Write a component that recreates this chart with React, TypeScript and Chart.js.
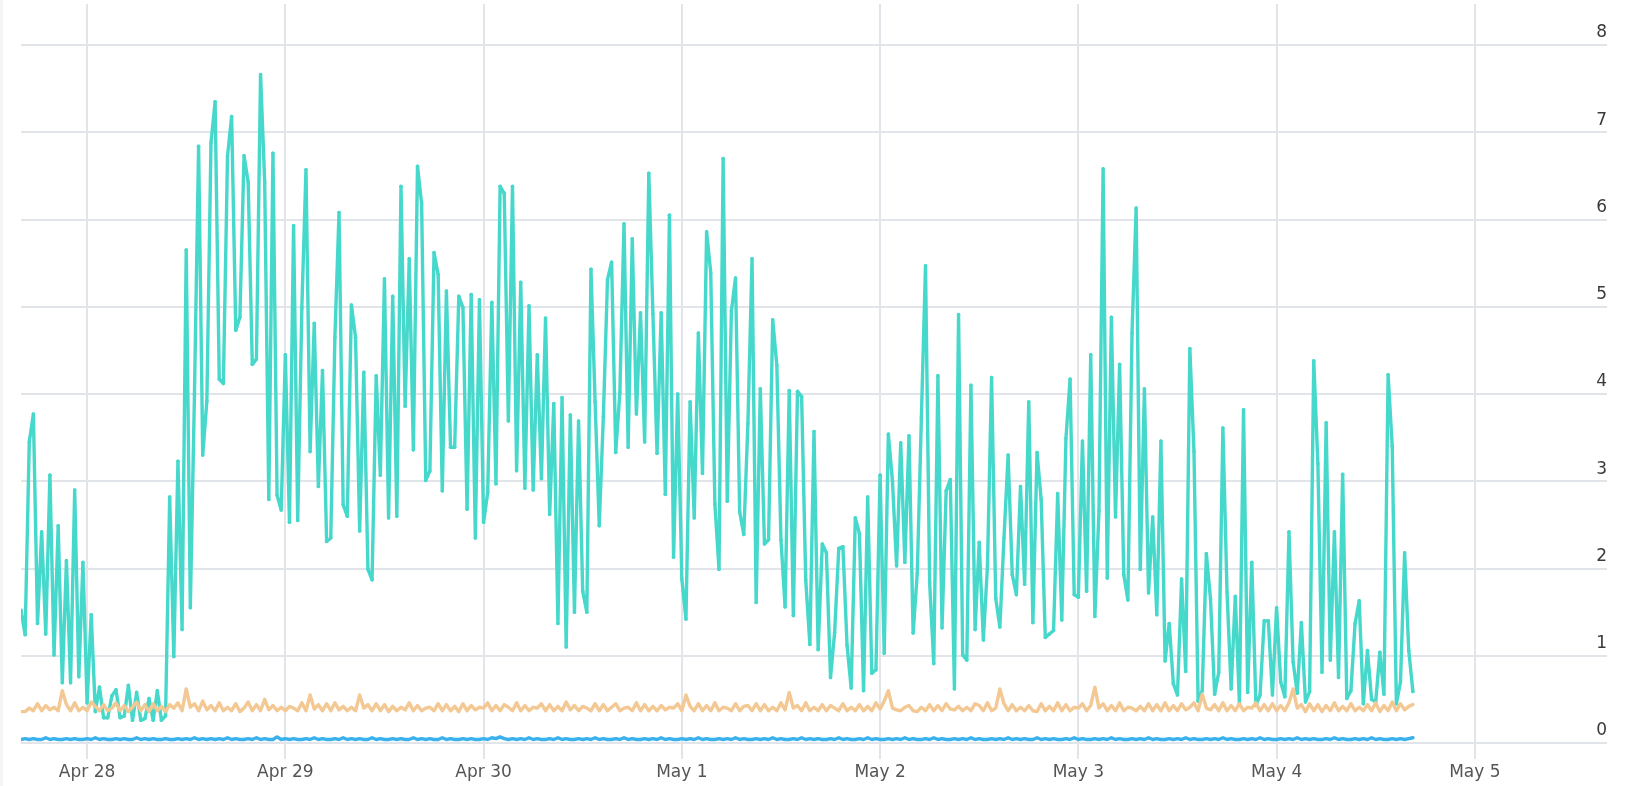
import React, { useEffect, useRef } from "react";
import { Chart, registerables } from "chart.js";

Chart.register(...registerables);

// Time axis expressed in hours since Apr 27 16:00 (first sample)
const SAMPLE_STEP_HOURS = 0.5;
const X_MIN_HOURS = 0; // Apr 27 16:00
const X_MAX_HOURS = 192; // May 5 16:00
const dayTickHours = [8, 32, 56, 80, 104, 128, 152, 176];
const dayTickLabels = ["Apr 28", "Apr 29", "Apr 30", "May 1", "May 2", "May 3", "May 4", "May 5"];
const yTickValues = [0, 1, 2, 3, 4, 5, 6, 7, 8];
const Y_MAX = 8.47;

// turquoise series (30-minute samples)
const turquoiseValues = [
  // Apr 27 16:00 – Apr 29 00:00
  1.52, 1.24, 3.45, 3.77, 1.37, 2.42, 1.25, 3.07, 1.01, 2.49,
  0.69, 2.09, 0.69, 2.90, 0.76, 2.07, 0.46, 1.47, 0.36, 0.64,
  0.29, 0.29, 0.54, 0.61, 0.29, 0.31, 0.66, 0.26, 0.58, 0.26,
  0.28, 0.51, 0.26, 0.60, 0.26, 0.31, 2.82, 0.99, 3.23, 1.30,
  5.65, 1.55, 4.00, 6.84, 3.30, 3.92, 6.88, 7.35, 4.17, 4.12,
  6.73, 7.18, 4.73, 4.88, 6.73, 6.43, 4.34, 4.40, 7.66, 6.43,
  2.79, 6.76, 2.84, 2.67, 4.45,
  // Apr 29
  2.53, 5.93, 2.55, 4.99, 6.57, 3.34, 4.81, 2.94, 4.27, 2.31,
  2.35, 4.65, 6.08, 2.73, 2.60, 5.02, 4.65, 2.43, 4.25, 1.99,
  1.87, 4.21, 3.07, 5.32, 2.58, 5.12, 2.60, 6.38, 3.86, 5.55,
  3.36, 6.61, 6.18, 3.01, 3.12, 5.62, 5.37, 2.89, 5.18, 3.39,
  3.39, 5.12, 4.99, 2.68, 5.14, 2.35, 5.08, 2.53,
  // Apr 30
  2.87, 5.05, 2.97, 6.38, 6.30, 3.69, 6.38, 3.12, 5.28, 2.92,
  5.01, 2.90, 4.45, 3.03, 4.87, 2.62, 3.89, 1.37, 3.96, 1.10,
  3.76, 1.50, 3.69, 1.74, 1.50, 5.43, 3.91, 2.49, 3.74, 5.31,
  5.51, 3.33, 4.02, 5.95, 3.39, 5.78, 3.77, 4.93, 3.45, 6.53,
  4.92, 3.32, 4.93, 2.85, 6.05, 2.13, 4.00, 1.88,
  // May 1
  1.42, 3.91, 2.58, 4.70, 3.09, 5.86, 5.39, 2.74, 1.99, 6.70,
  2.77, 4.95, 5.33, 2.65, 2.39, 3.66, 5.55, 1.61, 4.06, 2.28,
  2.33, 4.85, 4.33, 2.33, 1.56, 4.04, 1.46, 4.03, 3.97, 1.87,
  1.13, 3.57, 1.07, 2.28, 2.18, 0.75, 1.27, 2.23, 2.25, 1.12,
  0.63, 2.58, 2.40, 0.60, 2.82, 0.80, 0.84, 3.07,
  // May 2
  1.03, 3.54, 3.00, 2.03, 3.44, 2.07, 3.52, 1.26, 1.94, 3.73,
  5.47, 1.84, 0.91, 4.21, 1.32, 2.89, 3.02, 0.62, 4.91, 1.01,
  0.95, 4.10, 1.30, 2.30, 1.18, 2.03, 4.19, 1.66, 1.33, 2.35,
  3.30, 1.93, 1.70, 2.94, 1.82, 3.91, 1.38, 3.33, 2.79, 1.21,
  1.25, 1.29, 2.86, 1.41, 3.49, 4.17, 1.70, 1.67,
  // May 3
  3.46, 1.74, 4.45, 1.45, 2.66, 6.58, 1.89, 4.88, 2.59, 4.34,
  1.93, 1.64, 4.70, 6.13, 1.99, 4.06, 1.72, 2.59, 1.47, 3.46,
  0.94, 1.37, 0.68, 0.55, 1.88, 0.82, 4.52, 3.34, 0.48, 0.60,
  2.17, 1.65, 0.56, 0.81, 3.61, 1.73, 0.62, 1.68, 0.45, 3.82,
  0.58, 2.07, 0.43, 0.55, 1.40, 1.40, 0.55, 1.55,
  // May 4
  0.70, 0.53, 2.42, 0.93, 0.57, 1.38, 0.47, 0.59, 4.38, 3.20,
  0.81, 3.67, 0.95, 2.42, 0.75, 3.08, 0.51, 0.60, 1.37, 1.63,
  0.45, 1.06, 0.50, 0.47, 1.04, 0.56, 4.22, 3.40, 0.45, 0.70,
  2.18, 1.06, 0.59,
];

// orange series
const orangeValues = [
  0.36, 0.36, 0.40, 0.37, 0.45, 0.37, 0.43, 0.38, 0.41, 0.37, 0.60, 0.44, 0.37, 0.46, 0.37, 0.41, 0.37, 0.47, 0.42, 0.37, 0.44, 0.37, 0.40, 0.46,
  0.37, 0.43, 0.36, 0.41, 0.47, 0.37, 0.44, 0.36, 0.45, 0.37, 0.42, 0.36, 0.44, 0.40, 0.46, 0.37, 0.62, 0.41, 0.45, 0.37, 0.48, 0.38, 0.43, 0.37,
  0.46, 0.37, 0.41, 0.37, 0.45, 0.36, 0.40, 0.47, 0.37, 0.44, 0.37, 0.50, 0.38, 0.43, 0.37, 0.41, 0.37, 0.42, 0.40, 0.37, 0.46, 0.37, 0.55, 0.39,
  0.44, 0.37, 0.45, 0.37, 0.46, 0.38, 0.42, 0.37, 0.41, 0.37, 0.55, 0.40, 0.44, 0.37, 0.45, 0.37, 0.44, 0.36, 0.42, 0.37, 0.41, 0.38, 0.46, 0.37,
  0.43, 0.37, 0.40, 0.41, 0.37, 0.45, 0.37, 0.44, 0.37, 0.42, 0.36, 0.45, 0.37, 0.43, 0.38, 0.41, 0.40, 0.46, 0.37, 0.43, 0.37, 0.44, 0.41, 0.37,
  0.46, 0.37, 0.43, 0.37, 0.41, 0.40, 0.45, 0.37, 0.44, 0.37, 0.42, 0.37, 0.47, 0.38, 0.43, 0.37, 0.42, 0.40, 0.37, 0.45, 0.37, 0.44, 0.37, 0.41,
  0.45, 0.37, 0.40, 0.41, 0.37, 0.46, 0.37, 0.44, 0.37, 0.42, 0.37, 0.43, 0.38, 0.41, 0.40, 0.45, 0.37, 0.55, 0.42, 0.37, 0.45, 0.37, 0.43, 0.37,
  0.46, 0.37, 0.41, 0.40, 0.37, 0.45, 0.37, 0.42, 0.43, 0.37, 0.45, 0.37, 0.44, 0.37, 0.41, 0.37, 0.46, 0.38, 0.58, 0.40, 0.43, 0.37, 0.46, 0.37,
  0.41, 0.37, 0.44, 0.37, 0.43, 0.40, 0.37, 0.45, 0.37, 0.41, 0.37, 0.44, 0.37, 0.42, 0.37, 0.46, 0.39, 0.48, 0.60, 0.40, 0.38, 0.37, 0.41, 0.43,
  0.37, 0.36, 0.41, 0.37, 0.44, 0.37, 0.43, 0.37, 0.45, 0.39, 0.38, 0.42, 0.37, 0.41, 0.37, 0.45, 0.43, 0.37, 0.46, 0.37, 0.40, 0.62, 0.45, 0.37,
  0.44, 0.37, 0.41, 0.37, 0.43, 0.37, 0.36, 0.45, 0.37, 0.42, 0.37, 0.46, 0.37, 0.44, 0.37, 0.41, 0.40, 0.45, 0.37, 0.43, 0.64, 0.40, 0.45, 0.37,
  0.43, 0.37, 0.46, 0.37, 0.41, 0.40, 0.37, 0.42, 0.37, 0.45, 0.37, 0.44, 0.37, 0.46, 0.37, 0.43, 0.37, 0.45, 0.38, 0.41, 0.46, 0.37, 0.56, 0.40,
  0.38, 0.44, 0.37, 0.46, 0.37, 0.43, 0.37, 0.45, 0.37, 0.41, 0.40, 0.46, 0.37, 0.44, 0.37, 0.45, 0.37, 0.43, 0.37, 0.46, 0.62, 0.40, 0.44, 0.36,
  0.45, 0.37, 0.44, 0.36, 0.43, 0.37, 0.46, 0.37, 0.42, 0.37, 0.45, 0.37, 0.41, 0.37, 0.44, 0.37, 0.46, 0.36, 0.43, 0.37, 0.47, 0.37, 0.45, 0.38, 0.42, 0.44,
];

// blue series
const blueValues = [
  0.04, 0.05, 0.04, 0.05, 0.04, 0.04, 0.06, 0.04, 0.05, 0.04, 0.04, 0.05, 0.04, 0.05, 0.04, 0.04, 0.05, 0.04, 0.06, 0.04, 0.05, 0.04, 0.04, 0.05,
  0.04, 0.05, 0.04, 0.04, 0.06, 0.04, 0.05, 0.04, 0.05, 0.04, 0.04, 0.05, 0.04, 0.04, 0.05, 0.04, 0.05, 0.04, 0.06, 0.04, 0.05, 0.04, 0.05, 0.04,
  0.05, 0.04, 0.06, 0.04, 0.05, 0.04, 0.04, 0.05, 0.04, 0.06, 0.04, 0.05, 0.04, 0.04, 0.07, 0.04, 0.05, 0.04, 0.05, 0.04, 0.04, 0.05, 0.04, 0.06,
  0.04, 0.05, 0.04, 0.04, 0.05, 0.04, 0.06, 0.04, 0.05, 0.04, 0.05, 0.04, 0.04, 0.06, 0.04, 0.05, 0.04, 0.04, 0.05, 0.04, 0.05, 0.04, 0.04, 0.06,
  0.04, 0.05, 0.04, 0.05, 0.04, 0.04, 0.06, 0.04, 0.05, 0.04, 0.04, 0.05, 0.04, 0.05, 0.04, 0.04, 0.05, 0.04, 0.06, 0.05, 0.07, 0.05, 0.04, 0.05,
  0.04, 0.05, 0.04, 0.06, 0.04, 0.05, 0.04, 0.04, 0.05, 0.04, 0.06, 0.04, 0.05, 0.04, 0.04, 0.05, 0.04, 0.05, 0.04, 0.06, 0.04, 0.05, 0.04, 0.04,
  0.05, 0.04, 0.06, 0.04, 0.05, 0.04, 0.04, 0.05, 0.04, 0.05, 0.04, 0.06, 0.04, 0.05, 0.04, 0.04, 0.05, 0.04, 0.05, 0.04, 0.06, 0.04, 0.05, 0.04,
  0.04, 0.05, 0.04, 0.05, 0.04, 0.06, 0.04, 0.05, 0.04, 0.04, 0.05, 0.04, 0.05, 0.04, 0.06, 0.04, 0.05, 0.04, 0.04, 0.05, 0.04, 0.06, 0.04, 0.05,
  0.04, 0.05, 0.04, 0.04, 0.05, 0.04, 0.06, 0.04, 0.05, 0.04, 0.04, 0.05, 0.04, 0.06, 0.04, 0.05, 0.04, 0.04, 0.05, 0.04, 0.05, 0.04, 0.06, 0.04,
  0.05, 0.04, 0.04, 0.05, 0.04, 0.06, 0.04, 0.05, 0.04, 0.04, 0.05, 0.04, 0.05, 0.04, 0.06, 0.04, 0.05, 0.04, 0.04, 0.05, 0.04, 0.05, 0.04, 0.06,
  0.04, 0.05, 0.04, 0.05, 0.04, 0.04, 0.06, 0.04, 0.05, 0.04, 0.05, 0.04, 0.04, 0.05, 0.04, 0.06, 0.04, 0.05, 0.04, 0.04, 0.05, 0.04, 0.05, 0.04,
  0.06, 0.04, 0.05, 0.04, 0.04, 0.05, 0.04, 0.05, 0.04, 0.06, 0.04, 0.05, 0.04, 0.04, 0.05, 0.04, 0.05, 0.04, 0.06, 0.04, 0.05, 0.04, 0.04, 0.05,
  0.04, 0.05, 0.04, 0.06, 0.04, 0.05, 0.04, 0.04, 0.05, 0.04, 0.05, 0.04, 0.06, 0.04, 0.05, 0.04, 0.04, 0.05, 0.04, 0.05, 0.04, 0.06, 0.04, 0.05,
  0.04, 0.05, 0.04, 0.04, 0.05, 0.04, 0.06, 0.04, 0.05, 0.04, 0.04, 0.05, 0.04, 0.05, 0.04, 0.06, 0.04, 0.05, 0.04, 0.04, 0.05, 0.04, 0.05, 0.04, 0.05, 0.06,
];

const TURQUOISE = "#46d8cb";
const ORANGE = "#f3c893";
const BLUE = "#38b1ec";
const GRID = "#e1e4e8";
const TEXT_X = "#555555";
const TEXT_Y = "#3a3a3a";
const FONT_FAMILY = "'DejaVu Sans', sans-serif";

const WIDTH = 1627;
const HEIGHT = 786;

export default function App() {
  const canvasRef = useRef<HTMLCanvasElement | null>(null);

  useEffect(() => {
    const canvas = canvasRef.current;
    if (!canvas) return;
    const sampleTimes = turquoiseValues.map((_, i) => X_MIN_HOURS + i * SAMPLE_STEP_HOURS);

    const chart = new Chart(canvas, {
      type: "line",
      data: {
        labels: sampleTimes,
        datasets: [
          {
            data: blueValues,
            borderColor: BLUE,
            backgroundColor: BLUE,
            borderWidth: 3.4,
            pointRadius: 0,
            order: 0,
          },
          {
            data: orangeValues,
            borderColor: ORANGE,
            backgroundColor: ORANGE,
            borderWidth: 3.4,
            pointRadius: 0,
            order: 1,
          },
          {
            data: turquoiseValues,
            borderColor: TURQUOISE,
            backgroundColor: TURQUOISE,
            borderWidth: 3.4,
            pointRadius: 1.8,
            pointBorderWidth: 0,
            pointBackgroundColor: TURQUOISE,
            order: 2,
          },
        ],
      },
      options: {
        responsive: false,
        animation: false,
        events: [],
        layout: { padding: { left: 21, right: 20, top: 0, bottom: 0 } },
        elements: {
          line: { tension: 0, borderJoinStyle: "round", borderCapStyle: "round", fill: false },
        },
        plugins: {
          legend: { display: false },
          tooltip: { enabled: false },
          title: { display: false },
        },
        scales: {
          x: {
            type: "linear",
            min: X_MIN_HOURS,
            max: X_MAX_HOURS,
            border: { display: false },
            grid: {
              color: GRID,
              lineWidth: 2,
              drawTicks: true,
              tickLength: 16,
            },
            ticks: {
              autoSkip: false,
              maxRotation: 0,
              minRotation: 0,
              padding: 3,
              color: TEXT_X,
              font: { family: FONT_FAMILY, size: 17 },
              callback: (_v: any, index: number) => dayTickLabels[index],
            },
            afterBuildTicks: (scale: any) => {
              scale.ticks = dayTickHours.map((value) => ({ value }));
            },
            afterFit: (scale: any) => {
              scale.height = 43;
              scale.paddingLeft = 0;
              scale.paddingRight = 0;
            },
          },
          y: {
            type: "linear",
            position: "right",
            min: 0,
            max: Y_MAX,
            border: { display: false },
            grid: {
              color: GRID,
              lineWidth: 2,
              drawTicks: false,
            },
            ticks: {
              mirror: true,
              padding: 0,
              labelOffset: -12,
              color: TEXT_Y,
              font: { family: FONT_FAMILY, size: 17 },
              callback: (v: any) => String(v),
            },
            afterBuildTicks: (scale: any) => {
              scale.ticks = yTickValues.map((value) => ({ value }));
            },
            afterFit: (scale: any) => {
              scale.width = 0;
              scale.paddingTop = 0;
              scale.paddingBottom = 0;
            },
          },
        },
      },
    });
    return () => chart.destroy();
  }, []);

  return (
    <div
      style={{
        position: "fixed",
        left: 0,
        top: 0,
        width: WIDTH,
        height: HEIGHT,
        background: "#ffffff",
        overflow: "hidden",
      }}
    >
      <div style={{ position: "absolute", left: 0, top: 0, width: 3, height: HEIGHT, background: "#f4f5f7" }} />
      <canvas ref={canvasRef} width={WIDTH} height={HEIGHT} style={{ display: "block" }} />
    </div>
  );
}
